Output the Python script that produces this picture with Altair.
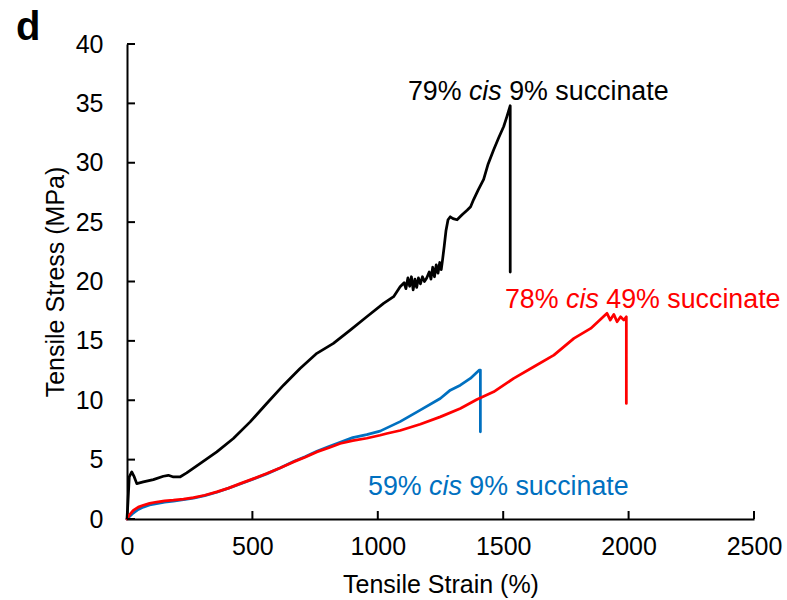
import altair as alt
import pandas as pd

# Tensile stress-strain traces: strain (%) and stress (MPa)
black_strain = [0, 4, 9, 19, 29, 39, 65, 105, 145, 165, 185, 211, 238, 291, 358, 424, 491,
                557, 624, 690, 757, 823, 890, 956, 1023, 1063, 1089, 1105, 1112, 1120, 1127,
                1134, 1141, 1148, 1155, 1162, 1170, 1178, 1186, 1195, 1205, 1212, 1219, 1226,
                1233, 1240, 1247, 1253, 1258, 1265, 1272, 1280, 1289, 1300, 1316, 1335, 1356,
                1370, 1382, 1400, 1422, 1440, 1462, 1482, 1502, 1515, 1528, 1528]
black_stress = [0, 1.5, 3.54, 3.96, 3.54, 2.98, 3.12, 3.32, 3.6, 3.68, 3.54, 3.54, 3.88, 4.67,
                5.65, 6.78, 8.18, 9.73, 11.27, 12.68, 13.95, 14.79, 15.91, 17.03, 18.16, 18.72,
                19.56, 19.9, 19.4, 20.3, 19.6, 20.4, 19.3, 20.2, 19.5, 20.3, 19.8, 20.4, 20.0,
                20.3, 20.8, 20.2, 21.2, 20.4, 21.4, 20.7, 21.6, 21.0, 21.8, 23.0, 24.3, 25.2,
                25.45, 25.3, 25.2, 25.6, 26.0, 26.3, 26.9, 27.7, 28.6, 29.9, 31.1, 32.1, 33.05,
                33.9, 34.8, 20.8]

red_strain = [0, 10, 25, 45, 65, 90, 118, 150, 185, 225, 265, 310, 358, 405, 451, 505, 557,
              610, 664, 710, 757, 805, 850, 900, 956, 1009, 1036, 1089, 1169, 1249, 1329,
              1395, 1462, 1542, 1622, 1702, 1782, 1849, 1914, 1927, 1941, 1954, 1968, 1981,
              1991, 1991]
red_stress = [0, 0.35, 0.73, 1.0, 1.16, 1.32, 1.43, 1.52, 1.58, 1.68, 1.8, 2.0, 2.28, 2.6,
              2.98, 3.4, 3.83, 4.3, 4.81, 5.2, 5.65, 6.0, 6.36, 6.6, 6.8, 7.05, 7.2, 7.45,
              7.98, 8.6, 9.31, 10.07, 10.71, 11.84, 12.82, 13.8, 15.21, 16.05, 17.32, 16.75,
              17.23, 16.61, 17.03, 16.75, 17.03, 9.73]

blue_strain = [0, 10, 25, 45, 65, 90, 118, 150, 185, 225, 265, 310, 358, 405, 451, 505, 557,
               610, 664, 710, 757, 805, 850, 900, 956, 1009, 1089, 1169, 1249, 1289, 1329,
               1369, 1405, 1409, 1409]
blue_stress = [0, 0.2, 0.5, 0.8, 1.0, 1.18, 1.3, 1.42, 1.5, 1.62, 1.75, 1.97, 2.25, 2.6, 2.95,
               3.38, 3.8, 4.3, 4.85, 5.25, 5.7, 6.1, 6.45, 6.85, 7.1, 7.4, 8.2, 9.17, 10.15,
               10.85, 11.27, 11.84, 12.54, 12.54, 7.34]

# Axis ticks
x_ticks = [0, 500, 1000, 1500, 2000, 2500]
y_ticks = [0, 5, 10, 15, 20, 25, 30, 35, 40]

# Sample labels: plain prefix, italic word, plain suffix, anchor (strain, stress), colour
label_before = ["79%", "78%", "59%"]
label_italic = ["cis", "cis", "cis"]
label_after = ["9% succinate", "49% succinate", "9% succinate"]
label_strain = [1120, 1507, 961]
label_stress = [35.28, 17.77, 2.02]
label_colors = ["#000000", "#FF0000", "#0070C0"]

panel_letter = "d"

W, H = 627, 475
FONT = "Liberation Sans"
LABEL_SIZE = 26.8
AXIS_SIZE = 25
TICK_LEN = 8

# Arial / Liberation Sans advance widths (per 1000 em) for the label characters
ADV = {c: 556 for c in "0123456789"}
ADV.update({"%": 889, " ": 278, "c": 500, "i": 222, "s": 500, "u": 556,
            "n": 556, "a": 556, "t": 278, "e": 556})


def text_width(s, size):
    return sum(ADV[ch] for ch in s) * size / 1000.0


x_scale = alt.Scale(domain=[0, 2500], nice=False, zero=False)
y_scale = alt.Scale(domain=[0, 40], nice=False, zero=False)

x_axis = alt.Axis(
    values=x_ticks, format="d", ticks=False, tickSize=0, grid=False,
    domainColor="black", domainWidth=2,
    labelFont=FONT, labelFontSize=AXIS_SIZE, labelColor="black",
    labelPadding=15, labelFlush=False, labelOverlap=False,
    title="Tensile Strain (%)", titleFont=FONT, titleFontSize=AXIS_SIZE,
    titleFontWeight="normal", titleColor="black",
    titleBaseline="alphabetic", titleY=73)
y_axis = alt.Axis(
    values=y_ticks, format="d", ticks=False, tickSize=0, grid=False,
    domainColor="black", domainWidth=2,
    labelFont=FONT, labelFontSize=AXIS_SIZE, labelColor="black",
    labelPadding=24, labelOverlap=False, labelFlush=False,
    title="Tensile Stress (MPa)", titleFont=FONT, titleFontSize=AXIS_SIZE,
    titleFontWeight="normal", titleColor="black",
    titleAngle=270, titleBaseline="middle", titleAlign="center",
    titleX=-72, titleY=H / 2)


def xenc(field):
    return alt.X(field, type="quantitative", scale=x_scale, axis=x_axis)


def yenc(field):
    return alt.Y(field, type="quantitative", scale=y_scale, axis=y_axis)


def trace(xs, ys, color):
    df = pd.DataFrame({"strain": xs, "stress": ys, "idx": list(range(len(xs)))})
    return alt.Chart(df).mark_line(
        color=color, strokeWidth=2.75, strokeJoin="round", strokeCap="round"
    ).encode(x=xenc("strain"), y=yenc("stress"), order="idx:Q")


layers = [
    trace(black_strain, black_stress, "#000000"),
    trace(blue_strain, blue_stress, "#0070C0"),
    trace(red_strain, red_stress, "#FF0000"),
]

# Inward-pointing tick marks
ytick_df = pd.DataFrame({"stress": y_ticks})
xtick_df = pd.DataFrame({"strain": x_ticks})
layers.append(alt.Chart(ytick_df).mark_rule(color="black", strokeWidth=2).encode(
    y=yenc("stress"), x=alt.value(0), x2=alt.value(TICK_LEN)))
layers.append(alt.Chart(xtick_df).mark_rule(color="black", strokeWidth=2).encode(
    x=xenc("strain"), y=alt.value(H), y2=alt.value(H - TICK_LEN)))

# Labels: three text runs each so the word "cis" can be italic
space = text_width(" ", LABEL_SIZE)
for i in range(len(label_before)):
    pt = pd.DataFrame({"strain": [label_strain[i]], "stress": [label_stress[i]]})
    w_before = text_width(label_before[i], LABEL_SIZE)
    w_ital = text_width(label_italic[i], LABEL_SIZE)
    runs = [(label_before[i], "normal", 0.0),
            (label_italic[i], "italic", w_before + space),
            (label_after[i], "normal", w_before + space + w_ital + space)]
    for txt, style, dx in runs:
        layers.append(alt.Chart(pt).mark_text(
            text=txt, align="left", baseline="alphabetic", dx=dx,
            font=FONT, fontSize=LABEL_SIZE, fontStyle=style, color=label_colors[i]
        ).encode(x=xenc("strain"), y=yenc("stress")))

# Panel letter in the top-left corner
layers.append(alt.Chart(pd.DataFrame({"t": [panel_letter]})).mark_text(
    align="left", baseline="alphabetic", font=FONT, fontSize=40, fontWeight="bold",
    color="black"
).encode(text="t:N", x=alt.value(-111), y=alt.value(-4)))

chart = alt.layer(*layers).properties(
    width=W, height=H,
    autosize=alt.AutoSizeParams(type="none"),
    padding={"left": 127, "top": 44, "right": 787 - 127 - W, "bottom": 600 - 44 - H},
    background="white",
).configure_view(stroke=None)

chart.save("out.html", embed_options={"renderer": "svg", "actions": False})
